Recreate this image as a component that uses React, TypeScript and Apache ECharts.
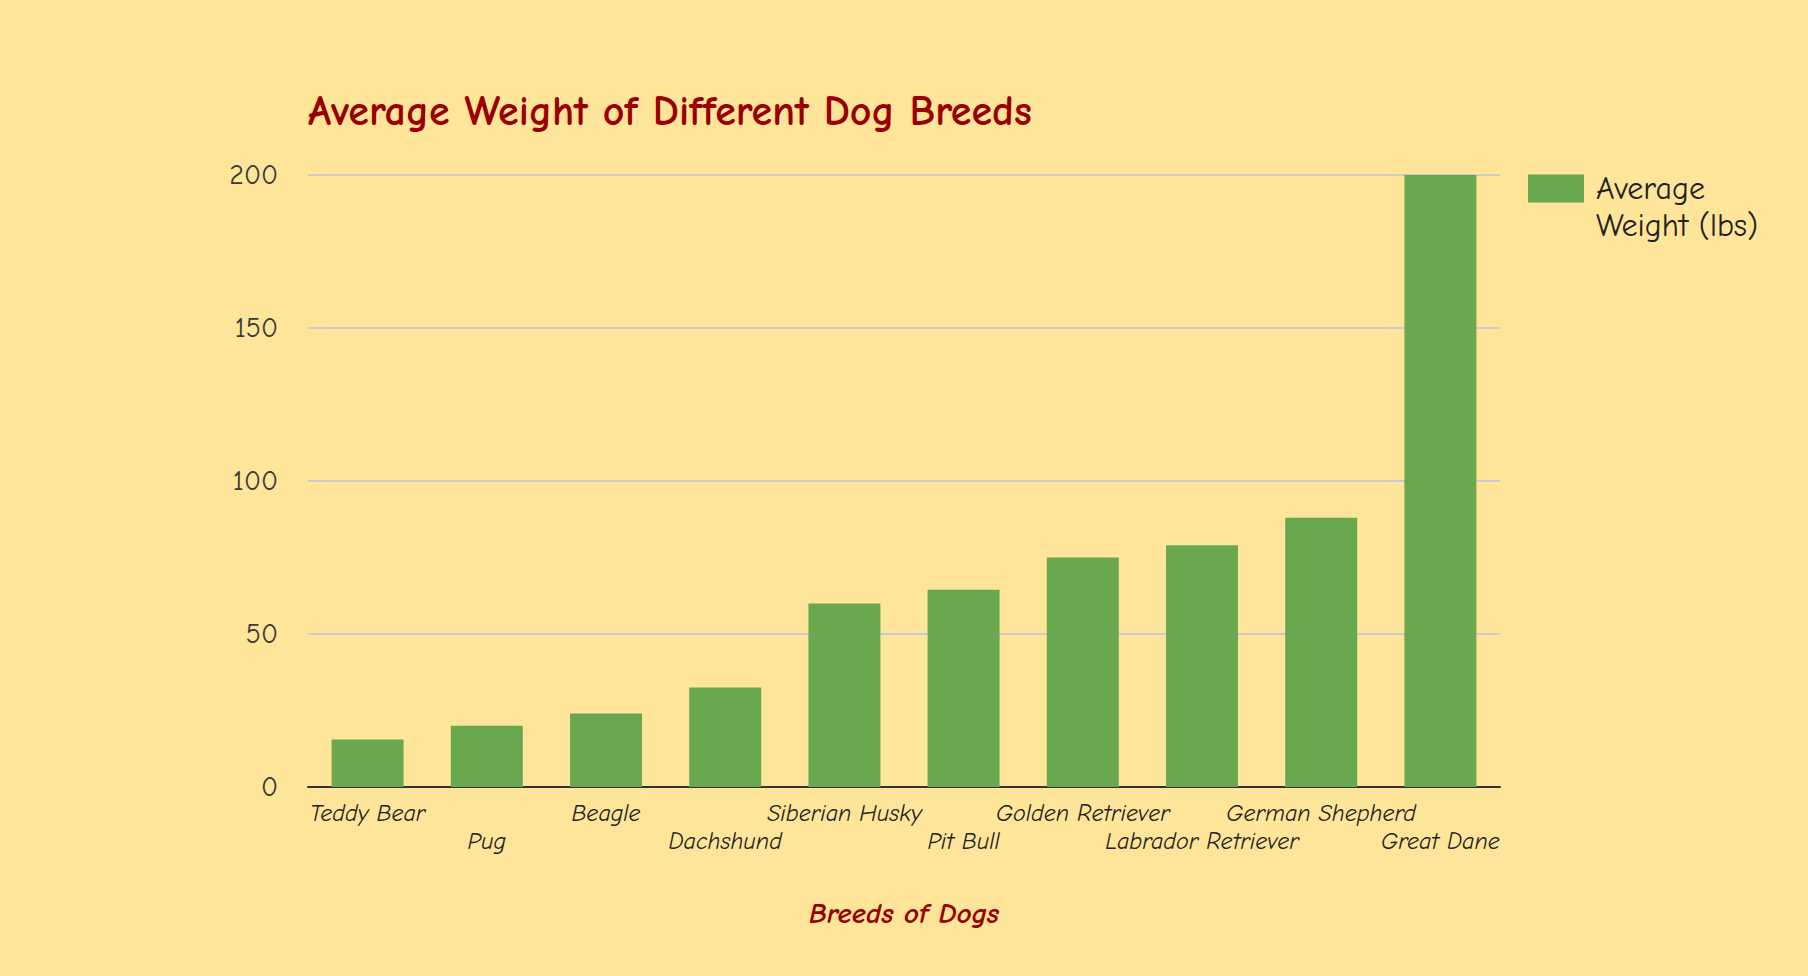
import React, { useEffect, useRef } from "react";
import * as echarts from "echarts";

const breeds = [
  "Teddy Bear",
  "Pug",
  "Beagle",
  "Dachshund",
  "Siberian Husky",
  "Pit Bull",
  "Golden Retriever",
  "Labrador Retriever",
  "German Shepherd",
  "Great Dane",
];
const avgWeight = [15.5, 20, 24, 32.5, 60, 64.5, 75, 79, 88, 200];
const seriesName = "Average Weight (lbs)";
const legendLines = ["Average", "Weight (lbs)"];
const yTicks = { min: 0, max: 200, interval: 50 };

const FONT = "'Comic Sans MS', 'Comic Neue', 'Open Sans', sans-serif";

export default function App() {
  const ref = useRef<HTMLDivElement>(null);

  useEffect(() => {
    if (!ref.current) return;
    const chart = echarts.init(ref.current, null, { renderer: "svg" });
    chart.setOption({
      animation: false,
      backgroundColor: "#ffe599",
      textStyle: { fontFamily: FONT },
      title: {
        text: "Average Weight of Different Dog Breeds",
        left: 308,
        top: 90,
        padding: 0,
        textStyle: {
          fontFamily: FONT,
          fontSize: 42,
          fontWeight: "bold",
          color: "#990000",
        },
      },
      legend: {
        left: 1528,
        top: 133,
        padding: 0,
        itemWidth: 56,
        itemHeight: 28,
        itemGap: 10,
        orient: "vertical",
        icon: "rect",
        data: [seriesName],
        formatter: () => "\n" + legendLines.join("\n"),
        textStyle: {
          fontFamily: FONT,
          fontSize: 32,
          color: "#222222",
          lineHeight: 37,
          padding: [0, 0, 0, 7],
        },
      },
      grid: {
        left: 308,
        right: 308,
        top: 175,
        bottom: 189,
        containLabel: false,
      },
      xAxis: {
        type: "category",
        data: breeds,
        name: "Breeds of Dogs",
        nameLocation: "middle",
        nameGap: 112,
        nameTextStyle: {
          fontFamily: FONT,
          fontSize: 29,
          fontWeight: "bold",
          fontStyle: "italic",
          color: "#990000",
        },
        axisLine: { show: true, lineStyle: { color: "#333333", width: 2 } },
        axisTick: { show: false },
        axisLabel: {
          interval: 0,
          margin: 12,
          fontFamily: FONT,
          fontSize: 24,
          fontStyle: "italic",
          color: "#222222",
          lineHeight: 28,
          formatter: (v: string, i: number) => (i % 2 === 1 ? "\n" + v : v),
        },
      },
      yAxis: {
        type: "value",
        min: yTicks.min,
        max: yTicks.max,
        interval: yTicks.interval,
        axisLine: { show: false },
        axisTick: { show: false },
        axisLabel: {
          margin: 30,
          fontFamily: FONT,
          fontSize: 28,
          color: "#3a3a3a",
        },
        splitLine: { show: true, lineStyle: { color: "#cccccc", width: 2 } },
      },
      series: [
        {
          name: seriesName,
          type: "bar",
          data: avgWeight,
          barWidth: 72,
          itemStyle: { color: "#6aa84f" },
        },
      ],
    });
    return () => chart.dispose();
  }, []);

  return (
    <div
      ref={ref}
      style={{ position: "fixed", left: 0, top: 0, width: 1808, height: 976 }}
    />
  );
}
